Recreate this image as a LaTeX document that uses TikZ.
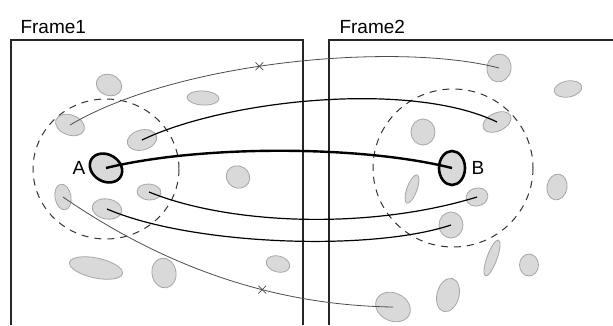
\documentclass[tikz,border=0pt]{standalone}
\usepackage{fontspec}
\setmainfont{Liberation Sans}
\usetikzlibrary{shapes.geometric,shapes.misc}

\begin{document}
\begin{tikzpicture}[x=1pt,y=-1pt,
  blob/.style={ellipse,draw=gray!70,fill=gray!30,line width=.8pt,inner sep=0pt},
  keyblob/.style={blob,draw=black,line width=2.6pt},
  zone/.style={dashed,dash pattern=on 7pt off 6pt,line width=1pt,black!80},
  frm/.style={line width=1.8pt,black!85},
  trk/.style={line width=1.2pt},
  faint/.style={line width=.8pt,black!70},
  lbl/.style={font=\fontsize{19}{22}\selectfont}]
 \useasboundingbox (0,0) rectangle (613,325);
 % frames
 \draw[frm] (11,325) |- (303,40) -- (303,325);
 \draw[frm] (329,325) |- (613,40);
 \node[lbl,anchor=base west] (t1) at (17,33) {Frame1};
 \node[lbl,anchor=base west] (t2) at (336,33) {Frame2};
 % search regions
 \draw[zone] (106,169) ellipse (73 and 70);
 \draw[zone] (453,168) ellipse (80 and 79);
 % blobs
 \foreach \id/\x/\y/\w/\h/\r in
  {l1/109/85/26/21/-20,l2/203/98/32/14/-3,l3/70/125/30/20/-20,l4/142/140/30/20/15,
   l5/238/177/24/22/-30,l6/63/197/16/26/10,l7/149/192/24/16/-5,l8/107/209/30/20/-10,
   l9/96/268/54/20/-12,l10/164/273/24/30/10,l11/278/264/24/16/-15,
   r1/499/68/24/28/-10,r2/568/89/28/16/10,r3/497/122/30/18/25,r4/423/132/24/26/0,
   r5/557/187/20/26/-10,r6/412/189/10/30/-20,r7/477/197/22/18/15,r8/451/225/24/26/0,
   r9/492/258/10/38/-20,r10/529/265/19/22/0,r11/448/295/22/34/-15,r12/393/307/36/28/-25}{
  \node[blob,minimum width=\w,minimum height=\h,rotate=\r] (\id) at (\x,\y) {};}
 \node[keyblob,minimum width=34,minimum height=27,rotate=-30] (a) at (106,168) {};
 \node[keyblob,minimum width=26,minimum height=34] (b) at (452,168) {};
 \node[lbl] (la) at (79,168) {A};
 \node[lbl] (lb) at (478,168) {B};
 % tracks
 \draw[faint] (l3.center) .. controls (180,60) and (400,42) .. (r1.center)
   node[pos=.44,cross out,draw,minimum size=7pt,inner sep=0pt,line width=.7pt] (x1) {};
 \draw[trk] (l4.center) .. controls (225,100) and (410,80) .. (r3.center);
 \draw[line width=2.4pt] (a.center) .. controls (200,145) and (360,145) .. (b.center);
 \draw[trk] (l7.center) .. controls (230,225) and (370,230) .. (r7.center);
 \draw[trk] (l8.center) .. controls (190,245) and (370,252) .. (r8.center);
 \draw[faint] (l6.center) .. controls (140,250) and (250,305) .. (r12.center)
   node[pos=.67,cross out,draw,minimum size=7pt,inner sep=0pt,line width=.7pt] (x2) {};
\end{tikzpicture}
\end{document}
